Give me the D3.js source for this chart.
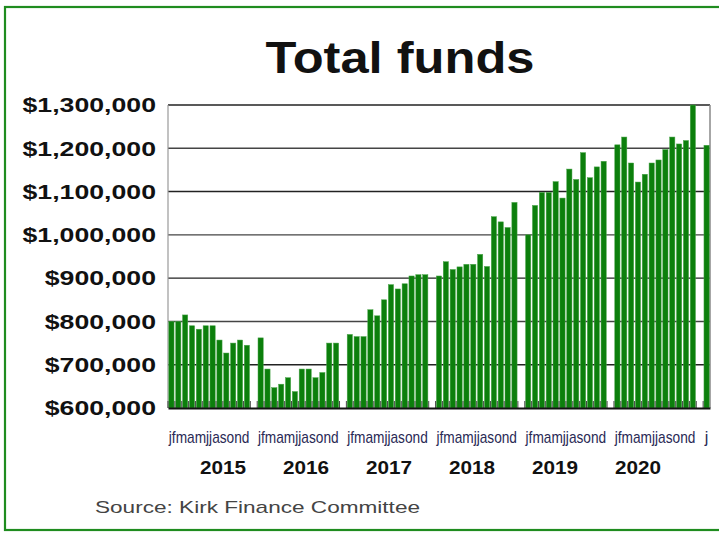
<!DOCTYPE html>
<html>
<head>
<meta charset="utf-8">
<script src="https://cdn.jsdelivr.net/npm/d3@7"></script>
<style>
  body { margin: 0; background: #fff; }
  svg { display: block; font-family: "Liberation Sans", Arial, sans-serif; }
</style>
</head>
<body>
<script>
// data, in dollars
var years = ["2015", "2016", "2017", "2018", "2019", "2020"];
var monthLetters = ["j", "f", "m", "a", "m", "j", "j", "a", "s", "o", "n", "d"];
var funds2015 = [800000, 800000, 815000, 790000, 782000, 790000, 790000, 757000, 727000, 750000, 757000, 745000];
var funds2016 = [762000, 690000, 647000, 655000, 670000, 638000, 690000, 690000, 670000, 682000, 750000, 750000];
var funds2017 = [770000, 765000, 765000, 827000, 813000, 850000, 885000, 875000, 887000, 905000, 908000, 908000];
var funds2018 = [905000, 938000, 920000, 926000, 932000, 932000, 955000, 927000, 1042000, 1030000, 1017000, 1075000];
var funds2019 = [1000000, 1068000, 1098000, 1098000, 1123000, 1085000, 1152000, 1128000, 1190000, 1132000, 1157000, 1170000];
var funds2020 = [1208000, 1226000, 1166000, 1122000, 1140000, 1166000, 1173000, 1197000, 1226000, 1210000, 1218000, 1300000];
var funds2021 = [1207000];
var yTicks = [600000, 700000, 800000, 900000, 1000000, 1100000, 1200000, 1300000];

(function () {
    var width = 719, height = 536;
    var left = 168, right = 710, top = 105, bottom = 408;

    // one slot per month, plus an empty slot after each year
    var series = [funds2015, funds2016, funds2017, funds2018, funds2019, funds2020, funds2021];
    var bars = [];
    series.forEach(function (vals, yi) {
        vals.forEach(function (v, mi) {
            bars.push({ slot: yi * 13 + mi, value: v });
        });
    });
    var nSlots = years.length * 13 + funds2021.length;

    var x = d3.scaleBand().domain(d3.range(nSlots)).range([left, right]).paddingInner(0.24).paddingOuter(0.12);
    var y = d3.scaleLinear().domain([600000, 1300000]).range([bottom, top]);
    // year captions sit a little inside the groups in the original
    var yearX = d3.scaleLinear().domain([0, years.length - 1]).range([223, 638]);

    function stretchTo(sel, factor) {
        sel.each(function () {
            var len = this.getComputedTextLength();
            d3.select(this).attr("textLength", len * factor).attr("lengthAdjust", "spacingAndGlyphs");
        });
    }

    var svg = d3.select("body").append("svg")
        .attr("width", width)
        .attr("height", height);

    svg.append("rect")
        .attr("x", 5).attr("y", 7)
        .attr("width", 740).attr("height", 523)
        .attr("fill", "none")
        .attr("stroke", "#1f8c1f")
        .attr("stroke-width", 2.2);

    svg.append("text")
        .attr("x", 400).attr("y", 73)
        .attr("text-anchor", "middle")
        .attr("font-size", 44)
        .attr("font-weight", "bold")
        .attr("fill", "#111")
        .text("Total funds")
        .call(stretchTo, 1.15);

    // gridlines
    svg.append("g").selectAll("line")
        .data(yTicks.slice(1))
        .join("line")
        .attr("x1", left).attr("x2", right)
        .attr("y1", function (d) { return y(d); })
        .attr("y2", function (d) { return y(d); })
        .attr("stroke", function (d, i) { return i % 2 ? "#444" : "#222"; })
        .attr("stroke-width", 1.4);

    // plot frame (left and right)
    svg.append("line").attr("x1", left).attr("x2", left).attr("y1", top).attr("y2", bottom)
        .attr("stroke", "#999").attr("stroke-width", 1.2);
    svg.append("line").attr("x1", right).attr("x2", right).attr("y1", top).attr("y2", bottom)
        .attr("stroke", "#888").attr("stroke-width", 1.5);

    svg.append("g").selectAll("rect")
        .data(bars)
        .join("rect")
        .attr("x", function (d) { return x(d.slot); })
        .attr("width", x.bandwidth())
        .attr("y", function (d) { return y(d.value); })
        .attr("height", function (d) { return bottom - y(d.value); })
        .attr("fill", "#0c7f0c")
        .attr("stroke", "#4aa54a")
        .attr("stroke-width", 0.5);

    // small dark ticks at the foot of the bars
    svg.append("g").selectAll("line")
        .data(d3.range(nSlots))
        .join("line")
        .attr("x1", function (d) { return x(d) - x.step() * 0.12; })
        .attr("x2", function (d) { return x(d) - x.step() * 0.12; })
        .attr("y1", bottom - 7).attr("y2", bottom)
        .attr("stroke", "#333")
        .attr("stroke-width", 0.9);

    // y axis
    var yAxis = svg.append("g")
        .attr("transform", "translate(" + 156 + ",0)")
        .call(d3.axisLeft(y).tickValues(yTicks).tickSize(0).tickPadding(0).tickFormat(d3.format("$,")));
    yAxis.select(".domain").remove();
    yAxis.selectAll("text")
        .attr("font-size", 21)
        .attr("font-weight", "bold")
        .attr("font-family", "Liberation Sans, Arial, sans-serif")
        .attr("fill", "#111")
        .call(stretchTo, 1.27);

    // x axis: baseline only, month letters squeezed under each year
    var xAxis = svg.append("g")
        .attr("transform", "translate(0," + bottom + ")")
        .call(d3.axisBottom(x).tickSize(0).tickFormat(""));
    xAxis.select(".domain").attr("stroke", "#111").attr("stroke-width", 2);
    xAxis.selectAll(".tick text").remove();

    var groups = years.map(function (yr, i) { return { letters: monthLetters, start: i * 13 }; });
    groups.push({ letters: monthLetters.slice(0, funds2021.length), start: years.length * 13 });
    svg.append("g").selectAll("text")
        .data(groups)
        .join("text")
        .attr("font-size", 16)
        .attr("fill", "#2a2a55")
        .text(function (d) { return d.letters.join(""); })
        .each(function (d) {
            var x0 = x(d.start), x1 = x(d.start + d.letters.length - 1) + x.bandwidth();
            var natural = this.getComputedTextLength();
            var sx = d.letters.length > 1 ? (x1 - x0) / natural : 1;
            var tx = d.letters.length > 1 ? x0 : (x0 + x1 - natural) / 2;
            d3.select(this).attr("transform", "translate(" + tx + ",443) scale(" + sx + ",1)");
        });

    svg.append("g").selectAll("text")
        .data(years)
        .join("text")
        .attr("x", function (d, i) { return yearX(i); })
        .attr("y", 474)
        .attr("text-anchor", "middle")
        .attr("font-size", 18)
        .attr("font-weight", "bold")
        .attr("fill", "#111")
        .text(function (d) { return d; })
        .call(stretchTo, 1.15);

    svg.append("text")
        .attr("x", 95).attr("y", 513)
        .attr("font-size", 17)
        .attr("fill", "#444")
        .attr("textLength", 325)
        .attr("lengthAdjust", "spacingAndGlyphs")
        .text("Source: Kirk Finance Committee");
})();
</script>
</body>
</html>
